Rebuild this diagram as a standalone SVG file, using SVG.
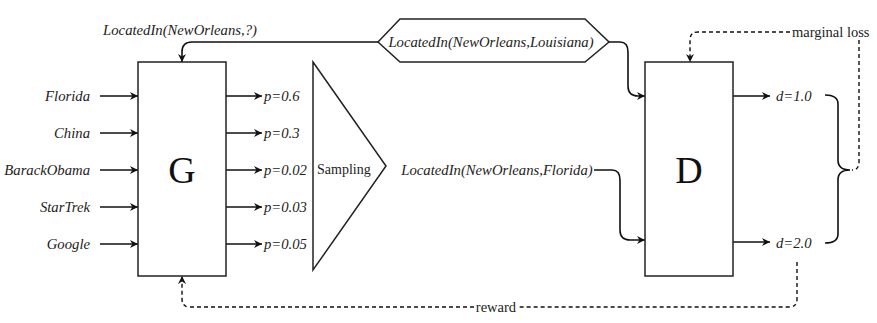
<svg xmlns="http://www.w3.org/2000/svg" width="877" height="323" viewBox="0 0 877 323">
<defs>
<marker id="ah" viewBox="0 0 10 10" refX="10" refY="5" markerWidth="8" markerHeight="8" markerUnits="userSpaceOnUse" orient="auto">
<path d="M0,0 L10,5 L0,10 L3,5 Z" fill="#111"/>
</marker>
</defs>
<style>
.box{fill:#fff;stroke:#222;stroke-width:1.5}
.ln{fill:none;stroke:#111;stroke-width:1.6}
.ds{fill:none;stroke:#111;stroke-width:1.4;stroke-dasharray:4 3}
.it{font-family:"Liberation Serif",serif;font-style:italic;font-size:14.7px;fill:#222}
.rm{font-family:"Liberation Serif",serif;font-size:14px;fill:#222}
.big{font-family:"Liberation Serif",serif;font-size:38px;fill:#111;text-anchor:middle}
</style>
<rect width="877" height="323" fill="#fff"/>
<g id="connectors">
<path class="ln" d="M378,42 H192 Q182,42 182,52 V62" marker-end="url(#ah)"/>
<path class="ln" d="M609,42 H620 Q628,42 628,52 V86 Q628,96 638,96 H645" marker-end="url(#ah)"/>
<path class="ln" d="M594,170 H612 Q620,170 620,180 V230 Q620,240 630,240 H645" marker-end="url(#ah)"/>
<path class="ln" d="M100,96 H138" marker-end="url(#ah)"/>
<path class="ln" d="M100,133 H138" marker-end="url(#ah)"/>
<path class="ln" d="M100,170 H138" marker-end="url(#ah)"/>
<path class="ln" d="M100,207 H138" marker-end="url(#ah)"/>
<path class="ln" d="M100,244 H138" marker-end="url(#ah)"/>
<path class="ln" d="M226,96 H262" marker-end="url(#ah)"/>
<path class="ln" d="M226,133 H262" marker-end="url(#ah)"/>
<path class="ln" d="M226,170 H262" marker-end="url(#ah)"/>
<path class="ln" d="M226,207 H262" marker-end="url(#ah)"/>
<path class="ln" d="M226,244 H262" marker-end="url(#ah)"/>
<path class="ln" d="M733,96 H770" marker-end="url(#ah)"/>
<path class="ln" d="M733,242 H770" marker-end="url(#ah)"/>
<path class="ln" d="M825,95 Q838,95 838,104 V160 Q838,170 850,170 Q838,170 838,180 V234 Q838,243 825,243"/>
<path class="ds" d="M790,32 H698 Q690,32 690,40 V62" marker-end="url(#ah)"/>
<path class="ds" d="M859,40 V162 Q859,170 852,170"/>
<path class="ds" d="M797,262 V299 Q797,307 789,307 H519"/>
<path class="ds" d="M474,307 H190 Q182,307 182,299 V276" marker-end="url(#ah)"/>
</g>
<g id="G">
<rect class="box" x="138" y="62" width="88" height="214"/>
<text class="big" x="182" y="183">G</text>
</g>
<g id="D">
<rect class="box" x="645" y="62" width="88" height="214"/>
<text class="big" x="689" y="183">D</text>
</g>
<g id="sampling">
<path class="box" d="M313,62 L386,166 L313,270 Z"/>
<text class="rm" x="317" y="174">Sampling</text>
</g>
<g id="truth">
<path class="box" d="M378,42 L400,19 H585 L609,42 L585,62 H400 Z"/>
<text class="it" x="491" y="47" text-anchor="middle">LocatedIn(NewOrleans,Louisiana)</text>
</g>
<g id="query">
<text class="it" x="180" y="35" text-anchor="middle">LocatedIn(NewOrleans,?)</text>
</g>
<g id="sample">
<text class="it" x="497" y="175" text-anchor="middle">LocatedIn(NewOrleans,Florida)</text>
</g>
<g id="inputs">
<text class="it" x="90" y="101" text-anchor="end">Florida</text>
<text class="it" x="90" y="138" text-anchor="end">China</text>
<text class="it" x="90" y="175" text-anchor="end">BarackObama</text>
<text class="it" x="90" y="212" text-anchor="end">StarTrek</text>
<text class="it" x="90" y="249" text-anchor="end">Google</text>
</g>
<g id="outputs">
<text class="it" x="264" y="101">p=0.6</text>
<text class="it" x="264" y="138">p=0.3</text>
<text class="it" x="264" y="175">p=0.02</text>
<text class="it" x="264" y="212">p=0.03</text>
<text class="it" x="264" y="249">p=0.05</text>
</g>
<g id="scores">
<text class="it" x="776" y="101" fill="#333">d=1.0</text>
<text class="it" x="776" y="248" fill="#333">d=2.0</text>
</g>
<g id="labels">
<text class="rm" x="792" y="37" style="font-size:14.5px">marginal loss</text>
<text class="rm" x="496" y="312" text-anchor="middle" style="font-size:14.5px">reward</text>
</g>
</svg>
